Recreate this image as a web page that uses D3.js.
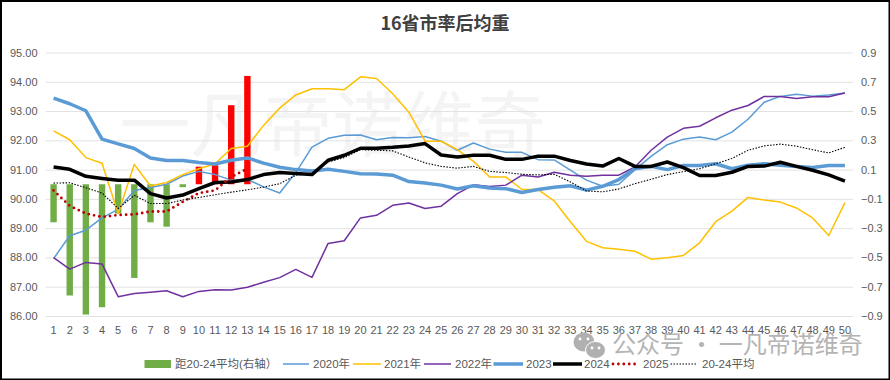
<!DOCTYPE html>
<html>
<head>
<meta charset="utf-8">
<script src="https://cdn.jsdelivr.net/npm/d3@7"></script>
<style>
  html, body { margin: 0; padding: 0; background: #fff; }
  svg { display: block; font-family: "Liberation Sans", "Noto Sans CJK SC", sans-serif; }
</style>
</head>
<body>
<div id="chart"></div>
<script>
// ----------------------- data ------------------------
const weeks = d3.range(1, 51);
const leftTicks = [95, 94, 93, 92, 91, 90, 89, 88, 87, 86];
const rightTicks = [0.9, 0.7, 0.5, 0.3, 0.1, -0.1, -0.3, -0.5, -0.7, -0.9];

const diff = [-0.26, -0.76, -0.89, -0.84, -0.2, -0.64, -0.26, -0.29, -0.02, 0.12, 0.13, 0.54, 0.74];

const y2020 = [87.96, 88.74, 88.93, 89.35, 89.64, 90.29, 90.39, 90.5, 90.78, 90.94,
  90.83, 90.64, 90.67, 90.41, 90.2, 90.9, 91.77, 92.07, 92.17, 92.18,
  92.02, 92.1, 92.09, 92.13, 91.97, 91.66, 91.91, 91.7, 91.59, 91.59,
  91.34, 91.33, 90.98, 90.64, 90.43, 90.5, 91.0, 91.45, 91.85, 92.04,
  92.11, 92.02, 92.28, 92.72, 93.3, 93.5, 93.57, 93.51, 93.55, 93.62];
const y2021 = [92.32, 92.02, 91.41, 91.22, 89.5, 91.18, 90.44, 90.56, 90.83, 91.03,
  91.2, 91.72, 91.8, 92.51, 93.1, 93.55, 93.76, 93.76, 93.73, 94.17,
  94.11, 93.59, 92.96, 91.97, 91.97, 91.68, 91.28, 90.75, 90.75, 90.32,
  90.32, 89.93, 89.22, 88.55, 88.33, 88.28, 88.21, 87.94, 87.99, 88.07,
  88.5, 89.22, 89.58, 90.05, 89.96, 89.89, 89.69, 89.35, 88.75, 89.87];
const y2022 = [87.99, 87.6, 87.83, 87.78, 86.66, 86.77, 86.81, 86.86, 86.66, 86.84,
  86.9, 86.89, 86.98, 87.15, 87.31, 87.59, 87.32, 88.48, 88.57, 89.35,
  89.44, 89.78, 89.86, 89.67, 89.75, 90.18, 90.48, 90.42, 90.47, 90.81,
  90.75, 90.91, 90.81, 90.77, 90.81, 90.81, 91.09, 91.66, 92.11, 92.41,
  92.48, 92.77, 93.03, 93.19, 93.5, 93.5, 93.43, 93.49, 93.49, 93.62];
const y2023 = [93.44, 93.25, 93.01, 92.04, 91.88, 91.72, 91.4, 91.31, 91.31, 91.24,
  91.19, 91.32, 91.4, 91.22, 91.08, 91.0, 90.95, 91.01, 90.94, 90.86,
  90.85, 90.81, 90.59, 90.54, 90.47, 90.34, 90.45, 90.37, 90.35, 90.22,
  90.32, 90.4, 90.45, 90.3, 90.43, 90.66, 91.03, 91.11, 91.0, 91.14,
  91.14, 91.2, 91.03, 91.15, 91.2, 91.15, 91.11, 91.07, 91.14, 91.14];
const y2024 = [91.09, 91.01, 90.77, 90.7, 90.64, 90.64, 90.18, 90.03, 90.13, 90.35,
  90.56, 90.58, 90.66, 90.83, 90.9, 90.87, 90.83, 91.32, 91.49, 91.73,
  91.73, 91.76, 91.81, 91.89, 91.5, 91.43, 91.49, 91.49, 91.35, 91.35,
  91.46, 91.46, 91.31, 91.19, 91.12, 91.38, 91.11, 91.11, 91.26, 91.07,
  90.8, 90.8, 90.91, 91.11, 91.12, 91.25, 91.11, 90.98, 90.82, 90.61];
const y2025 = [90.29, 89.76, 89.5, 89.38, 89.45, 89.47, 89.57, 89.57, 89.9, 90.2, 90.29, 90.75, 91.03];
const yAvg = [90.54, 90.55, 90.38, 90.2, 89.67, 90.12, 89.84, 89.84, 89.96, 90.05,
  90.14, 90.23, 90.31, 90.4, 90.52, 90.81, 90.86, 91.26, 91.41, 91.68,
  91.66, 91.64, 91.43, 91.23, 91.11, 91.05, 91.11, 90.94, 90.9, 90.84,
  90.82, 90.84, 90.58, 90.27, 90.24, 90.34, 90.52, 90.67, 90.83, 90.93,
  91.03, 91.2, 91.38, 91.66, 91.81, 91.87, 91.8, 91.68, 91.57, 91.76];

// ----------------------- constants ------------------------
const width = 890,
  height = 380,
  margin = { top: 52.5, bottom: 64, left: 45.5, right: 37 },
  innerHeight = height - margin.top - margin.bottom,
  innerWidth = width - margin.left - margin.right;

const grey = "#595959";

const svg = d3.select("#chart").append("svg")
  .attr("width", width)
  .attr("height", height);

svg.append("rect").attr("width", width).attr("height", height).attr("fill", "#fff");

// watermark behind the plot
svg.append("text")
  .attr("x", 119.5).attr("y", 150)
  .attr("font-size", 71)
  .attr("font-family", "Noto Sans CJK SC")
  .attr("fill", "#f4f4f4")
  .text("一凡帝诺维奇");

const g = svg.append("g").attr("transform", `translate(${margin.left}, ${margin.top})`);

// --------------------------- scales -----------------------
const xScale = d3.scaleBand().domain(weeks).range([0, innerWidth]);
const xMid = d => xScale(d) + xScale.bandwidth() / 2;
const yLeft = d3.scaleLinear().domain([86, 95]).range([innerHeight, 0]);
const yRight = d3.scaleLinear().domain([-0.9, 0.9]).range([innerHeight, 0]);

// --------------------------- axes -------------------------
const axisLeft = g.append("g")
  .call(d3.axisLeft(yLeft).tickValues(leftTicks).tickSize(-innerWidth).tickPadding(8).tickFormat(d3.format(".2f")));
const axisRight = g.append("g")
  .attr("transform", `translate(${innerWidth}, 0)`)
  .call(d3.axisRight(yRight).tickValues(rightTicks).tickSize(0).tickPadding(8).tickFormat(d3.format(".1f")));
const axisBottom = g.append("g")
  .attr("transform", `translate(0, ${innerHeight})`)
  .call(d3.axisBottom(xScale).tickSize(0).tickPadding(10));

axisLeft.select(".domain").remove();
axisRight.select(".domain").remove();
axisBottom.select(".domain").remove();
axisLeft.selectAll("line").attr("stroke", "#e2e2e2").attr("stroke-width", 1);
[axisLeft, axisRight, axisBottom].forEach(a => a.selectAll("text").attr("fill", grey).attr("font-size", 11));

// ----------------------- bars ------------------------
g.selectAll(".bar")
  .data(diff)
  .join("rect")
  .attr("class", "bar")
  .attr("x", (d, i) => xMid(weeks[i]) - 3.2)
  .attr("width", 6.4)
  .attr("y", d => yRight(Math.max(d, 0)))
  .attr("height", d => Math.abs(yRight(d) - yRight(0)))
  .attr("fill", d => d < 0 ? "#70ad47" : "#ff0000");

// ----------------------- lines ------------------------
const lineFunc = d3.line().x((d, i) => xMid(weeks[i])).y(d => yLeft(d));

const series = [
  { name: "2020年", values: y2020, color: "#5b9bd5", w: 1.5 },
  { name: "2021年", values: y2021, color: "#ffc000", w: 1.5 },
  { name: "2022年", values: y2022, color: "#7030a0", w: 1.5 },
  { name: "2023", values: y2023, color: "#5b9bd5", w: 3.5 },
  { name: "2024", values: y2024, color: "#000000", w: 3.5 },
  { name: "2025", values: y2025, color: "#c00000", w: 2.8, dash: "0 5.4", cap: "round" },
  { name: "20-24平均", values: yAvg, color: "#000000", w: 1.1, dash: "1.5 1.5" }
];

g.selectAll(".trend")
  .data(series)
  .join("path")
  .attr("class", "trend")
  .attr("fill", "none")
  .attr("stroke", d => d.color)
  .attr("stroke-width", d => d.w)
  .attr("stroke-dasharray", d => d.dash || null)
  .attr("stroke-linecap", d => d.cap || "butt")
  .attr("stroke-linejoin", "round")
  .attr("d", d => lineFunc(d.values));

// ----------------------- title ------------------------
svg.append("text")
  .attr("x", 445).attr("y", 30)
  .attr("text-anchor", "middle")
  .attr("font-size", 18)
  .attr("font-weight", "bold")
  .attr("font-family", "Noto Sans CJK SC")
  .attr("fill", "#404040")
  .text("16省市率后均重");

// ----------------------- legend ------------------------
const legendY = 364;
const legend = svg.append("g").attr("font-size", 11.5).attr("fill", grey);
legend.append("rect").attr("x", 144.5).attr("y", legendY - 4).attr("width", 26.5).attr("height", 8).attr("fill", "#70ad47");
legend.append("text").attr("x", 175).attr("y", legendY + 4).text("距20-24平均(右轴）");

const legendX = [283, 353, 424, 493.5, 553, 613, 670.5];
const legendEnd = [309, 381, 451, 523, 582, 639, 697];
const legendText = [313, 384, 455, 526, 584, 643, 702];
series.forEach((s, i) => {
  legend.append("line")
    .attr("x1", legendX[i]).attr("x2", legendEnd[i])
    .attr("y1", legendY).attr("y2", legendY)
    .attr("stroke", s.color)
    .attr("stroke-width", s.w)
    .attr("stroke-dasharray", s.dash || null)
    .attr("stroke-linecap", s.cap || "butt");
  legend.append("text").attr("x", legendText[i]).attr("y", legendY + 4).text(s.name);
});

// ----------------------- wechat mark ------------------------
const mark = svg.append("g").attr("fill", "#b0b0b0");
mark.append("ellipse").attr("cx", 584).attr("cy", 342).attr("rx", 10.5).attr("ry", 9.5);
mark.append("ellipse").attr("cx", 595.5).attr("cy", 350).attr("rx", 10).attr("ry", 8.5).attr("stroke", "#fff").attr("stroke-width", 1);
[[580, 339], [588, 339], [592, 348], [599, 348]].forEach(p => {
  mark.append("circle").attr("cx", p[0]).attr("cy", p[1]).attr("r", 1.4).attr("fill", "#fff");
});
svg.append("text")
  .attr("x", 612).attr("y", 353)
  .attr("font-size", 24)
  .attr("font-family", "Noto Sans CJK SC")
  .attr("fill", "#b4b4b4")
  .text("公众号 · 一凡帝诺维奇");

// ----------------------- border ------------------------
svg.append("rect").attr("x", 0).attr("y", 0).attr("width", 2).attr("height", height).attr("fill", "#000");
svg.append("rect").attr("x", 0).attr("y", 0).attr("width", width).attr("height", 2).attr("fill", "#000");
svg.append("rect").attr("x", width - 1.5).attr("y", 0).attr("width", 1.5).attr("height", height).attr("fill", "#000");
svg.append("rect").attr("x", 0).attr("y", height - 1.5).attr("width", width).attr("height", 1.5).attr("fill", "#000");
</script>
</body>
</html>
